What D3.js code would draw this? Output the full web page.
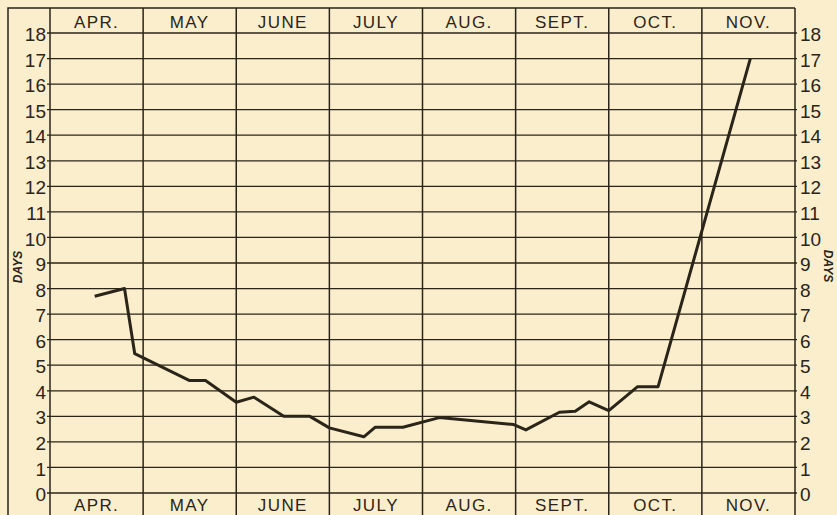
<!DOCTYPE html>
<html>
<head>
<meta charset="utf-8">
<script src="https://cdn.jsdelivr.net/npm/d3@7"></script>
<style>
  body { margin: 0; background: #faeecd; }
  svg { display: block; }
  text { font-family: "Liberation Sans", Arial, sans-serif; fill: #2b2418; }
</style>
</head>
<body>
<svg id="chart" width="837" height="515"></svg>
<script>
// month columns, top and bottom
const months = ["APR.", "MAY", "JUNE", "JULY", "AUG.", "SEPT.", "OCT.", "NOV."]
const dayTicks = d3.range(0, 19)

// position = months since start of April, value = days
const positions = [0.48, 0.80, 0.91, 1.50, 1.67, 2.00, 2.19, 2.51, 2.79, 3.00, 3.37, 3.49, 3.79, 4.18,
    4.98, 5.11, 5.47, 5.64, 5.79, 6.00, 6.31, 6.53, 7.52]
const days = [7.7, 8.0, 5.45, 4.4, 4.4, 3.55, 3.75, 3.0, 3.0, 2.55, 2.2, 2.57, 2.57, 2.95,
    2.68, 2.47, 3.16, 3.2, 3.57, 3.22, 4.16, 4.16, 17]

const ink = "#2b2418"
const svg = d3.select("#chart")

const x = d3.scaleLinear().domain([0, months.length]).range([50, 795])
const y = d3.scaleLinear().domain([0, 18]).range([493, 33])

// outer frame: left edge and top edge
svg.append("path")
    .attr("d", "M8,515 V8 H" + x(months.length))
    .attr("fill", "none")
    .attr("stroke", ink)
    .attr("stroke-width", 1.5)

// horizontal grid lines, one per day
svg.append("g")
    .selectAll("line")
    .data(dayTicks)
    .join("line")
    .attr("x1", x(0) - 3)
    .attr("x2", x(months.length) + 2)
    .attr("y1", d => y(d))
    .attr("y2", d => y(d))
    .attr("stroke", ink)
    .attr("stroke-width", 1.3)

// vertical month dividers, running through both label rows
svg.append("g")
    .selectAll("line")
    .data(d3.range(0, months.length + 1))
    .join("line")
    .attr("x1", d => x(d))
    .attr("x2", d => x(d))
    .attr("y1", 8)
    .attr("y2", 515)
    .attr("stroke", ink)
    .attr("stroke-width", 1.5)

// month names, top and bottom
const monthText = function (baseline) {
    svg.append("g")
        .selectAll("text")
        .data(months)
        .join("text")
        .attr("x", (d, i) => x(i + 0.5))
        .attr("y", baseline)
        .attr("text-anchor", "middle")
        .style("font-size", "17px")
        .style("letter-spacing", "1.4px")
        .text(d => d)
}
monthText(28)
monthText(511)

// day numbers on both sides (axes without lines)
const leftAxis = svg.append("g")
    .attr("transform", "translate(" + (x(0) - 2) + ",0)")
    .call(d3.axisLeft(y).tickValues(dayTicks).tickSize(0).tickPadding(2).tickFormat(d3.format("d")))
const rightAxis = svg.append("g")
    .attr("transform", "translate(" + (x(months.length) + 4) + ",0)")
    .call(d3.axisRight(y).tickValues(dayTicks).tickSize(0).tickPadding(1).tickFormat(d3.format("d")))
for (const ax of [leftAxis, rightAxis]) {
    ax.select(".domain").remove()
    ax.selectAll("text")
        .attr("dy", "0.4em")
        .style("font-family", "'Liberation Sans', Arial, sans-serif")
        .style("font-size", "19px")
        .style("fill", ink)
}

// DAYS labels
svg.append("text")
    .attr("transform", "translate(22,267) rotate(-90)")
    .attr("text-anchor", "middle")
    .style("font-size", "12px")
    .style("font-style", "italic")
    .style("font-weight", "bold")
    .text("DAYS")
svg.append("text")
    .attr("transform", "translate(824,266) rotate(90)")
    .attr("text-anchor", "middle")
    .style("font-size", "12px")
    .style("font-style", "italic")
    .style("font-weight", "bold")
    .text("DAYS")

// the curve
const line = d3.line()
    .x(d => x(d[0]))
    .y(d => y(d[1]))
svg.append("path")
    .datum(d3.zip(positions, days))
    .attr("d", line)
    .attr("fill", "none")
    .attr("stroke", ink)
    .attr("stroke-width", 3)
    .attr("stroke-linejoin", "round")
</script>
</body>
</html>
